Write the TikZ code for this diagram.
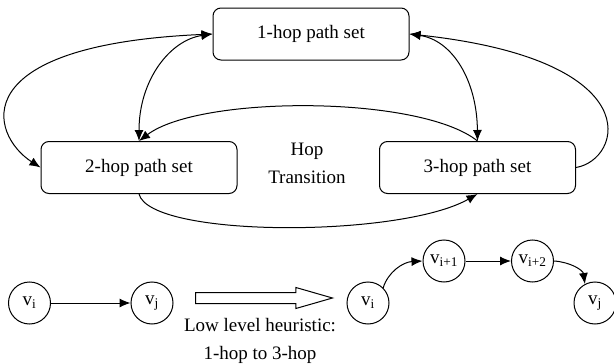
\documentclass[tikz,border=0pt]{standalone}
\usepackage{fontspec}
\setmainfont{Liberation Serif}
\usepackage{tikz}
\usetikzlibrary{arrows.meta}
\usetikzlibrary{shapes.arrows}

\begin{document}
\begin{tikzpicture}[x=1pt, y=-1pt, >={Latex[length=11pt,width=9pt]}, line width=1pt,
    font=\fontsize{19}{28}\selectfont,
    pathset/.style={draw, rounded corners=8pt, minimum width=196pt, minimum height=52pt, inner sep=0pt},
    vertex/.style={draw, circle, minimum size=42pt, inner sep=0pt}]

    \useasboundingbox (0,0) rectangle (614,364);

    % Path sets

    \node[pathset] (one)   at (311,34)      {1-hop path set}; %
    \node[pathset] (two)   at (139,167.5)   {2-hop path set}; %
    \node[pathset] (three) at (477.5,167.5) {3-hop path set}; %
    \node[align=center] (trans) at (307,163) {Hop\\Transition};

    \draw[<->] (one.west) .. controls (-38,45) and (-10,135) .. (two.west);
    \draw[<->] (one.west) .. controls (170,40) and (139,80) .. (two.north);
    \draw[<->] (one.east) .. controls (452,40) and (477,80) .. (three.north);
    \draw[->] (three.east) .. controls (622,160) and (652,60) .. (one.east);
    \draw[->] (three.north) .. controls (420,95) and (200,95) .. (two.north);
    \draw[->] (two.south) .. controls (150,238) and (400,238) .. (three.south);

    % Heuristic

    \node[vertex] (vi)  at (29.5,303) {v\textsubscript{i}}; %
    \node[vertex] (vj)  at (152,303)  {v\textsubscript{j}}; %
    \draw[->] (vi) -- (vj);

    \node[single arrow, draw, minimum height=137pt, inner sep=5pt, anchor=tail,
          single arrow head extend=5pt, single arrow tip angle=32] (shift) at (195,298) {};
    \node[align=center] (heur) at (260,341) {Low level heuristic:\\1-hop to 3-hop};

    \node[vertex] (wi)   at (368,303)   {v\textsubscript{i}}; %
    \node[vertex] (wip1) at (444,261)   {v\textsubscript{i+1}}; %
    \node[vertex] (wip2) at (532.5,261) {v\textsubscript{i+2}}; %
    \node[vertex] (wj)   at (595,303)   {v\textsubscript{j}}; %

    \draw[->] (wi.45) .. controls (388,272) and (403,262) .. (wip1.west);
    \draw[->] (wip1) -- (wip2);
    \draw[->] (wip2.east) .. controls (570,262) and (583,270) .. (wj.118);

\end{tikzpicture}
\end{document}
